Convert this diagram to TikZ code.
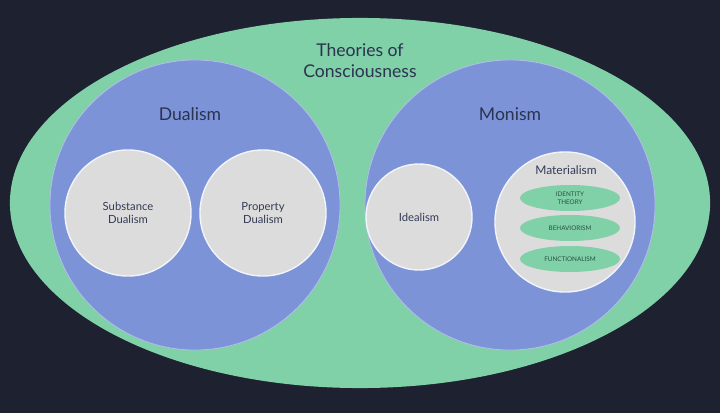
\documentclass[tikz,border=0pt]{standalone}
\usepackage{fontspec}
\setmainfont{Lato}
\usepackage{tikz}
\usetikzlibrary{shapes.geometric}
\definecolor{bgnavy}{HTML}{1E2130}
\definecolor{mintgreen}{HTML}{80D0A8}
\definecolor{setblue}{HTML}{7D93D8}
\definecolor{lightgrey}{HTML}{DCDCDC}
\definecolor{inkblue}{HTML}{2B3350}
\tikzset{
	bigset/.style={circle, fill=setblue, draw=setblue!60!white, line width=0.6pt},
	subset/.style={circle, fill=lightgrey, draw=white!90!setblue, line width=1pt, text=inkblue!90!gray, font=\fontsize{8}{9.5}\selectfont, align=center},
	pill/.style={ellipse, fill=mintgreen, minimum width=2.5cm, minimum height=0.65cm, inner sep=0pt, text=inkblue!85!green, font=\fontsize{4.5}{5.5}\selectfont, align=center}
}

\begin{document}
\begin{tikzpicture}[x=0.025cm, y=-0.025cm]
		%%%%% START %%%%%
		
		\fill[bgnavy] (0, 0) rectangle (720, 413);
		\useasboundingbox (0, 0) rectangle (720, 413);
		
		\node[ellipse, fill=mintgreen, minimum width=17.5cm, minimum height=9.25cm] (theories) at (360, 203) {};
		\node[text=inkblue, font=\fontsize{12.5}{15}\selectfont, align=center] (title) at (360, 61) {Theories of\\Consciousness};
		
		\node[bigset, minimum size=7.25cm] (dualism) at (195, 205) {};
		\node[bigset, minimum size=7.25cm] (monism) at (510, 205) {};
		\node[text=inkblue, font=\fontsize{12.5}{15}\selectfont] (dualismlbl) at (190, 114) {Dualism};
		\node[text=inkblue, font=\fontsize{12.5}{15}\selectfont] (monismlbl) at (510, 114) {Monism};
		
		\node[subset, minimum size=3.15cm] (substance) at (128, 213) {Substance\\Dualism};
		\node[subset, minimum size=3.15cm] (property) at (263, 213) {Property\\Dualism};
		\node[subset, minimum size=2.65cm] (idealism) at (419, 217) {Idealism};
		\node[subset, minimum size=3.5cm] (materialism) at (565, 222) {};
		\node[text=inkblue!90!gray, font=\fontsize{8.5}{10}\selectfont] (materiallbl) at (566, 170) {Materialism};
		
		\node[pill] (identity) at (570, 198) {IDENTITY\\THEORY};
		\node[pill] (behaviorism) at (570, 228) {BEHAVIORISM};
		\node[pill] (functionalism) at (570, 259) {FUNCTIONALISM};
		
		%%%%% END %%%%%
	\end{tikzpicture}
\end{document}
